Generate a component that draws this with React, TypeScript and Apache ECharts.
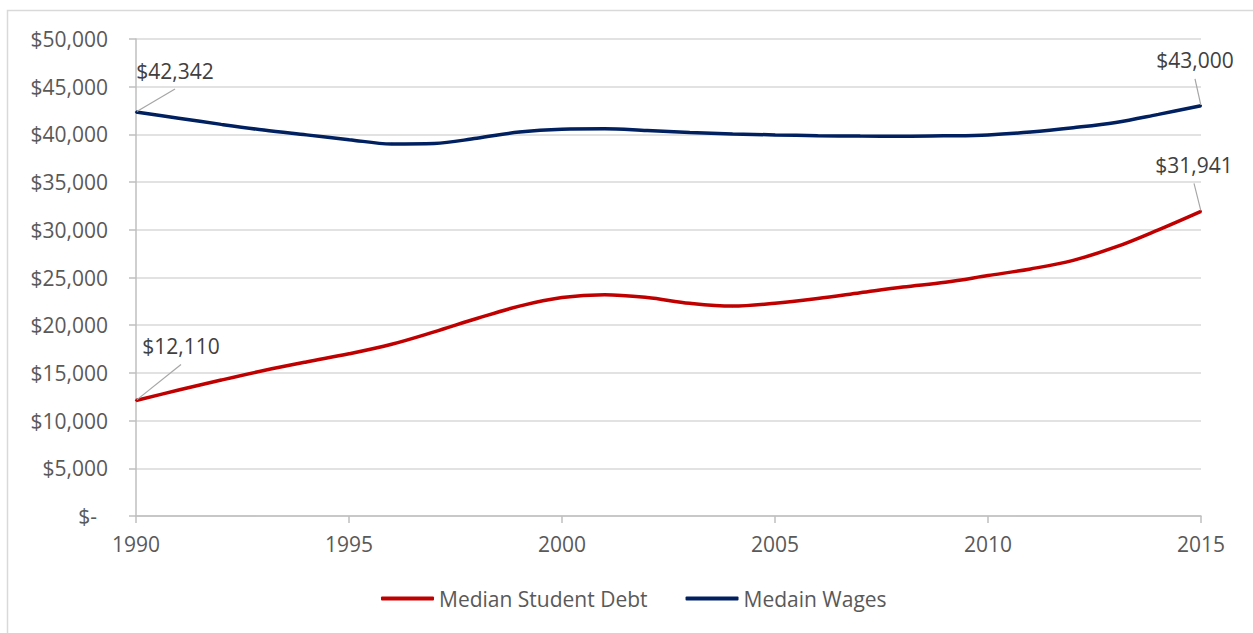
import React, { useEffect, useRef } from "react";
import * as echarts from "echarts";

const years = [
  1990, 1991, 1992, 1993, 1994, 1995, 1996, 1997, 1998, 1999, 2000, 2001, 2002,
  2003, 2004, 2005, 2006, 2007, 2008, 2009, 2010, 2011, 2012, 2013, 2014, 2015,
];
const debtValues = [
  12110, 13200, 14250, 15250, 16150, 17000, 18000, 19300, 20700, 22000, 22900,
  23200, 22900, 22300, 22000, 22300, 22800, 23400, 24000, 24500, 25200, 25900,
  26800, 28200, 30000, 31941,
];
const wageValues = [
  42342, 41700, 41050, 40450, 39950, 39450, 39000, 39050, 39600, 40250, 40550,
  40600, 40400, 40200, 40050, 39950, 39870, 39820, 39800, 39850, 39950, 40250,
  40700, 41250, 42100, 43000,
];
const seriesNames = ["Median Student Debt", "Medain Wages"];
const colors = ["#C00000", "#002060"];

const FONT = "'Open Sans', 'Noto Sans', sans-serif";

function fmtMoney(v: number): string {
  return "$" + v.toLocaleString("en-US");
}

// label padding [top, right, bottom, left] for first / last points (shapes the leader line)
const firstPad = [0, 50, 8, 50];
const lastPad = [0, 0, 8, 0];

function buildData(xs: number[], values: number[]) {
  return xs.map((y, i) => {
    const first = i === 0;
    const last = i === xs.length - 1;
    const edge = first || last;
    return {
      value: [y, values[i]],
      label: edge
        ? {
            show: true,
            padding: first ? firstPad : lastPad,
            backgroundColor: "rgba(255,255,255,0)",
          }
        : { show: false },
      labelLine: { show: edge },
    };
  });
}

// label offsets (dx, dy) keyed by "series-first/last"
const labelOffsets: Record<string, [number, number]> = {
  "0-first": [45, -30],
  "0-last": [-7, -22],
  "1-first": [39, -17],
  "1-last": [-6, -21],
};

export default function App() {
  const ref = useRef<HTMLDivElement>(null);
  useEffect(() => {
    if (!ref.current) return;
    const chart = echarts.init(ref.current, undefined, { renderer: "svg" });
    const n = years.length;
    const mkSeries = (idx: number, values: number[]) => ({
      name: seriesNames[idx],
      type: "line",
      smooth: 0.35,
      data: buildData(years, values),
      symbol: "circle",
      symbolSize: 2,
      showSymbol: true,
      lineStyle: { color: colors[idx], width: 3.5 },
      itemStyle: { color: colors[idx] },
      label: {
        show: false,
        position: "top",
        formatter: (p: any) => fmtMoney(p.value[1]),
        color: "#404040",
        fontSize: 21,
        fontFamily: FONT,
      },
      labelLine: {
        show: false,
        lineStyle: { color: "#A6A6A6", width: 1.2 },
      },
      labelLayout: (p: any) => {
        const key =
          p.dataIndex === 0 ? "first" : p.dataIndex === n - 1 ? "last" : "";
        const off = labelOffsets[`${p.seriesIndex}-${key}`];
        if (!off) return {};
        return { dx: off[0], dy: off[1] };
      },
      emphasis: { disabled: true },
    });
    chart.setOption({
      animation: false,
      backgroundColor: "#FFFFFF",
      graphic: [
        {
          type: "rect",
          shape: { x: 7.5, y: 10.5, width: 1300, height: 700 },
          style: { fill: "none", stroke: "#D9D9D9", lineWidth: 1.5 },
          silent: true,
          z: -1,
        },
      ],
      grid: { left: 136, right: 52, top: 39, bottom: 117, containLabel: false },
      legend: {
        bottom: 19,
        left: 376,
        icon: "roundRect",
        itemWidth: 53,
        itemHeight: 4,
        itemGap: 38,
        textStyle: { color: "#595959", fontSize: 21, fontFamily: FONT },
        data: seriesNames,
      },
      xAxis: {
        type: "value",
        min: 1990,
        max: 2015,
        interval: 5,
        axisLine: { show: true, lineStyle: { color: "#BFBFBF", width: 1.5 } },
        axisTick: { show: true, length: 7, lineStyle: { color: "#BFBFBF", width: 1.5 } },
        splitLine: { show: false },
        axisLabel: {
          color: "#595959",
          fontSize: 21,
          fontFamily: FONT,
          margin: 17,
          formatter: (v: number) => String(v),
        },
      },
      yAxis: {
        type: "value",
        min: 0,
        max: 50000,
        interval: 5000,
        axisLine: { show: true, lineStyle: { color: "#BFBFBF", width: 1.5 } },
        axisTick: { show: true, length: 7, lineStyle: { color: "#BFBFBF", width: 1.5 } },
        splitLine: { show: true, lineStyle: { color: "#D9D9D9", width: 1.5 } },
        axisLabel: {
          color: "#595959",
          fontSize: 21,
          fontFamily: FONT,
          margin: 28,
          formatter: (v: number) => (v === 0 ? "{z|$-}" : fmtMoney(v)),
          rich: {
            z: {
              color: "#595959",
              fontSize: 21,
              fontFamily: FONT,
              padding: [0, 11, 0, 0],
            },
          },
        },
      },
      series: [mkSeries(0, debtValues), mkSeries(1, wageValues)],
    });
    return () => chart.dispose();
  }, []);
  return (
    <div
      ref={ref}
      style={{ position: "absolute", left: 0, top: 0, width: 1253, height: 633 }}
    />
  );
}
